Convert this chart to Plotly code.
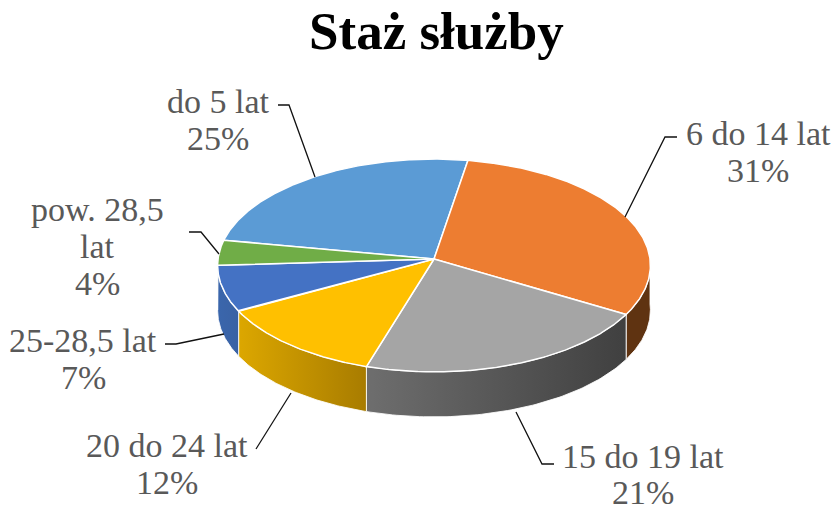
import numpy as np
import plotly.graph_objects as go

title = "Staż służby"
labels = ["do 5 lat", "6 do 14 lat", "15 do 19 lat", "20 do 24 lat", "25-28,5 lat", "pow. 28,5<br>lat"]
shares = [24.8, 30.8, 21.3, 12.3, 7.0, 3.8]
top_colors = ["#5B9BD5", "#ED7D31", "#A5A5A5", "#FFC000", "#4472C4", "#70AD47"]
side_scales = [
    ["#3F6F9C", "#3F6F9C"],
    ["#5F3311", "#5F3311"],
    ["#6E6E6E", "#404040"],
    ["#DCA700", "#A87C00"],
    ["#3A66AC", "#3A62A4"],
    ["#4D7A2E", "#4D7A2E"],
]
label_pos = [(218, 101), (758, 133), (643, 456), (167, 445), (83, 340), (97, 209)]
line_gaps = [37, 37, 36, 37, 37, 37]
leaders = [
    ([278, 289, 315], [105, 105, 177]),
    ([677, 665, 625], [137, 137, 217]),
    ([554, 542, 516], [464, 464, 412]),
    ([256, 291], [449, 393]),
    ([165, 176, 224], [344, 344, 334]),
    ([189, 201, 219], [232, 232, 254]),
]

CX, CY, RX, RY, K, DEPTH = 434, 259, 216, 106, 0.061, 45
START = -79.7


def project(deg, dy=0.0):
    t = np.radians(deg)
    X, Y = np.sin(t), -np.cos(t)
    w = 1 - K * Y
    return CX + RX * X / w, CY + RY * Y / w + dy


fig = go.Figure()
edges = START + np.concatenate([[0], np.cumsum(shares)]) / sum(shares) * 360

# rim faces
for i in range(len(shares)):
    for shift in (0, 360):
        a0, a1 = edges[i] + shift, edges[i + 1] + shift
        a, b = max(a0, 90), min(a1, 270)
        if b <= a:
            continue
        ts = np.linspace(a, b, 80)
        x1, y1 = project(ts)
        x2, y2 = project(ts[::-1], DEPTH)
        fig.add_trace(go.Scatter(
            x=np.r_[x1, x2, x1[0]], y=np.r_[y1, y2, y1[0]], mode="lines",
            line=dict(color="rgba(255,255,255,0.85)", width=1), fill="toself",
            fillgradient=dict(type="horizontal",
                              colorscale=[[0, side_scales[i][0]], [1, side_scales[i][1]]]),
            hoverinfo="skip", showlegend=False))

# top faces
for i in range(len(shares)):
    ts = np.linspace(edges[i], edges[i + 1], 200)
    x, y = project(ts)
    fig.add_trace(go.Scatter(
        x=np.r_[CX, x, CX], y=np.r_[CY, y, CY], mode="lines",
        line=dict(color="#FFFFFF", width=1.5), fill="toself", fillcolor=top_colors[i],
        name=labels[i], hoverinfo="skip", showlegend=False))

# leader lines
for lx, ly in leaders:
    fig.add_trace(go.Scatter(x=lx, y=ly, mode="lines", line=dict(color="#111111", width=1.3),
                             hoverinfo="skip", showlegend=False))

FONT = "Liberation Serif"
for lab, share, (px, py), gap in zip(labels, shares, label_pos, line_gaps):
    lines = lab.split("<br>") + [f"{round(share)}%"]
    for j, ln in enumerate(lines):
        fig.add_annotation(x=px, y=py + j * gap, text=ln, showarrow=False,
                           xanchor="center", yanchor="middle",
                           font=dict(family=FONT, size=34, color="#595959"))

fig.add_annotation(x=436, y=31, text=f"<b>{title}</b>", showarrow=False, xanchor="center", yanchor="middle",
                   font=dict(family=FONT, size=53, color="#000000"))

fig.update_layout(
    width=835, height=510, margin=dict(l=0, r=0, t=0, b=0),
    paper_bgcolor="#FFFFFF", plot_bgcolor="#FFFFFF", showlegend=False,
    xaxis=dict(range=[0, 835], visible=False, fixedrange=True),
    yaxis=dict(range=[510, 0], visible=False, fixedrange=True),
)
fig.write_html("out.html", config=dict(displayModeBar=False),
               post_script="document.body.style.margin='0';document.documentElement.style.overflow='hidden';")
